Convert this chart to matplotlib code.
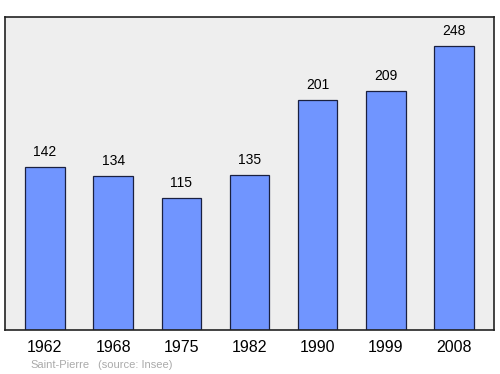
import matplotlib
matplotlib.use("Agg")
import matplotlib.pyplot as plt

plt.rcParams["font.family"] = ["Liberation Sans", "DejaVu Sans"]

years = ["1962", "1968", "1975", "1982", "1990", "1999", "2008"]
population = [142, 134, 115, 135, 201, 209, 248]

fig = plt.figure(figsize=(5, 3.74), dpi=100)
ax = fig.add_axes([0.01, 0.118, 0.978, 0.837])
ax.set_facecolor("#eeeeee")

x = range(len(years))
ax.bar(x, population, width=0.58, color="#7095ff", edgecolor="#1a2040", linewidth=0.9)

for xi, v in zip(x, population):
    ax.text(xi, v + 7, str(v), ha="center", va="bottom", fontsize=10)

ax.set_xlim(-0.585, len(years) - 1 + 0.585)
ax.set_ylim(0, 273.5)
ax.set_yticks([])
ax.set_xticks(list(x))
ax.set_xticklabels(years, fontsize=11.5)
ax.tick_params(axis="x", length=0, pad=7)
for s in ax.spines.values():
    s.set_linewidth(1.2)
    s.set_color("#222222")

fig.text(0.06, 0.015, "Saint-Pierre", fontsize=8, color="#aaaaaa")
fig.text(0.195, 0.015, "(source: Insee)", fontsize=8, color="#aaaaaa")

fig.savefig("out.png", dpi=100)
